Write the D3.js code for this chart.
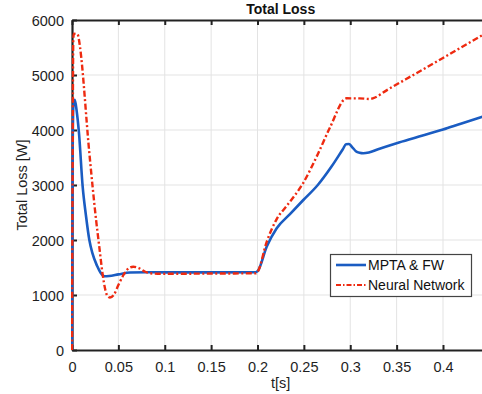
<!DOCTYPE html>
<html>
<head>
<meta charset="utf-8">
<script src="https://cdn.jsdelivr.net/npm/d3@7"></script>
<style>
  html, body { margin: 0; padding: 0; background: #fff; }
  svg { display: block; font-family: "Liberation Sans", Arial, sans-serif; }
</style>
</head>
<body>
<svg id="chart" width="482" height="394"></svg>
<script>
// Time axis [s] and loss values [W] for the two methods
const tMPTA = [0, 0.0008, 0.0015, 0.003, 0.005, 0.0075, 0.0115, 0.015, 0.0187, 0.022, 0.027, 0.031, 0.035, 0.04, 0.05, 0.0625, 0.08, 0.1, 0.15, 0.198,
  0.2, 0.21, 0.2207, 0.235, 0.2494, 0.265, 0.28, 0.292, 0.2955, 0.2985, 0.302, 0.306, 0.31, 0.314, 0.32, 0.33, 0.35, 0.37, 0.40, 0.42, 0.45];
const lossMPTA = [0, 3800, 4450, 4550, 4350, 3950, 2970, 2450, 2000, 1760, 1530, 1400, 1340, 1345, 1375, 1410, 1415, 1412, 1412, 1415,
  1430, 1880, 2212, 2470, 2727, 3000, 3340, 3650, 3740, 3745, 3690, 3615, 3585, 3576, 3590, 3650, 3760, 3860, 4010, 4120, 4280];

const tNN = [0, 0.0006, 0.0014, 0.002, 0.006, 0.0075, 0.0086, 0.0187, 0.026, 0.0294, 0.033, 0.036, 0.038, 0.041, 0.045, 0.05, 0.055, 0.06, 0.066, 0.072, 0.078, 0.084, 0.1, 0.15, 0.198,
  0.2, 0.21, 0.2207, 0.2315, 0.2494, 0.265, 0.278, 0.296, 0.31, 0.321, 0.325, 0.34, 0.37, 0.40, 0.45];
const lossNN = [0, 3000, 5650, 5750, 5740, 5640, 5515, 3580, 2360, 1878, 1380, 1090, 990, 955, 1000, 1180, 1350, 1470, 1515, 1490, 1430, 1395, 1385, 1390, 1395,
  1420, 1970, 2380, 2620, 3040, 3560, 4040, 4576, 4575, 4564, 4580, 4730, 5020, 5310, 5800];

const xTicks = [0, 0.05, 0.1, 0.15, 0.2, 0.25, 0.3, 0.35, 0.4];
const yTicks = [0, 1000, 2000, 3000, 4000, 5000, 6000];
const seriesNames = ["MPTA & FW", "Neural Network"];
const colors = ["#1a5cc2", "#ee2a10"];

const svg = d3.select("#chart");
const plotLeft = 72, plotTop = 20, plotBottom = 350;
const x = d3.scaleLinear().domain([0, 0.45]).range([plotLeft, plotLeft + 927.5 * 0.45]);
const y = d3.scaleLinear().domain([0, 6000]).range([plotBottom, plotTop]);
const plotRight = x(0.45);
const plotMid = (plotLeft + plotRight) / 2;

svg.append("defs").append("clipPath").attr("id", "plotClip")
  .append("rect").attr("x", plotLeft - 1).attr("y", plotTop)
  .attr("width", plotRight - plotLeft + 1).attr("height", plotBottom - plotTop);

// Grid
const grid = svg.append("g").attr("stroke", "#e3e3e3").attr("stroke-width", 1);
xTicks.slice(1).forEach(t => grid.append("line")
  .attr("x1", x(t)).attr("x2", x(t)).attr("y1", plotTop).attr("y2", plotBottom));
yTicks.slice(1, -1).forEach(v => grid.append("line")
  .attr("x1", plotLeft).attr("x2", plotRight).attr("y1", y(v)).attr("y2", y(v)));

// Axes
const axisColor = "#222";
const xAxis = svg.append("g").attr("transform", `translate(0,${plotBottom})`)
  .call(d3.axisBottom(x).tickValues(xTicks).tickFormat(d3.format("~g")).tickSizeInner(-5).tickSizeOuter(0).tickPadding(12));
const yAxis = svg.append("g").attr("transform", `translate(${plotLeft},0)`)
  .call(d3.axisLeft(y).tickValues(yTicks).tickFormat(d3.format("d")).tickSizeInner(-5).tickSizeOuter(0).tickPadding(8));
const xTop = svg.append("g").attr("transform", `translate(0,${plotTop})`)
  .call(d3.axisTop(x).tickValues(xTicks).tickFormat("").tickSizeInner(-5).tickSizeOuter(0));
[xAxis, yAxis, xTop].forEach(g => {
  g.select(".domain").attr("stroke", axisColor).attr("stroke-width", 2.2);
  g.selectAll(".tick line").attr("stroke", axisColor).attr("stroke-width", 2);
  g.selectAll(".tick text").attr("fill", "#1e1e1e").style("font-size", "14.5px")
    .style("font-family", "'Liberation Sans', Arial, sans-serif");
});
yAxis.selectAll(".tick text").attr("dy", "0.36em");

// Curves (drawn over the axes so the rise at t = 0 stays visible)
const line = d3.line().x(d => x(d[0])).y(d => y(d[1])).curve(d3.curveMonotoneX);
const plot = svg.append("g").attr("clip-path", "url(#plotClip)");
plot.append("path")
  .datum(d3.zip(tMPTA, lossMPTA))
  .attr("d", line)
  .attr("fill", "none").attr("stroke", colors[0]).attr("stroke-width", 2.6)
  .attr("stroke-linejoin", "round");
plot.append("path")
  .datum(d3.zip(tNN, lossNN))
  .attr("d", line)
  .attr("fill", "none").attr("stroke", colors[1]).attr("stroke-width", 2.4)
  .attr("stroke-dasharray", "6,2.5,2,2.5");

// Titles
svg.append("text").attr("x", plotMid).attr("y", 14).attr("text-anchor", "middle")
  .style("font-size", "14px").style("font-weight", "bold").attr("fill", "#111").text("Total Loss");
svg.append("text").attr("x", plotMid).attr("y", 388).attr("text-anchor", "middle")
  .style("font-size", "14.5px").attr("fill", "#1e1e1e").text("t[s]");
svg.append("text").attr("transform", `translate(27,${(plotTop + plotBottom) / 2}) rotate(-90)`)
  .attr("text-anchor", "middle").style("font-size", "14.5px").attr("fill", "#1e1e1e").text("Total Loss [W]");

// Legend
const lg = svg.append("g");
lg.append("rect").attr("x", 330.5).attr("y", 254.5).attr("width", 141).attr("height", 42)
  .attr("fill", "#fff").attr("stroke", "#444").attr("stroke-width", 1.2);
seriesNames.forEach((name, i) => {
  const yy = 265 + i * 20;
  lg.append("line").attr("x1", 336).attr("x2", 366).attr("y1", yy).attr("y2", yy)
    .attr("stroke", colors[i]).attr("stroke-width", i === 0 ? 2.6 : 2)
    .attr("stroke-dasharray", i === 0 ? null : "5,2,1.5,2");
  lg.append("text").attr("x", 368).attr("y", yy + 5).style("font-size", "14px")
    .attr("fill", "#111").text(name);
});
</script>
</body>
</html>
